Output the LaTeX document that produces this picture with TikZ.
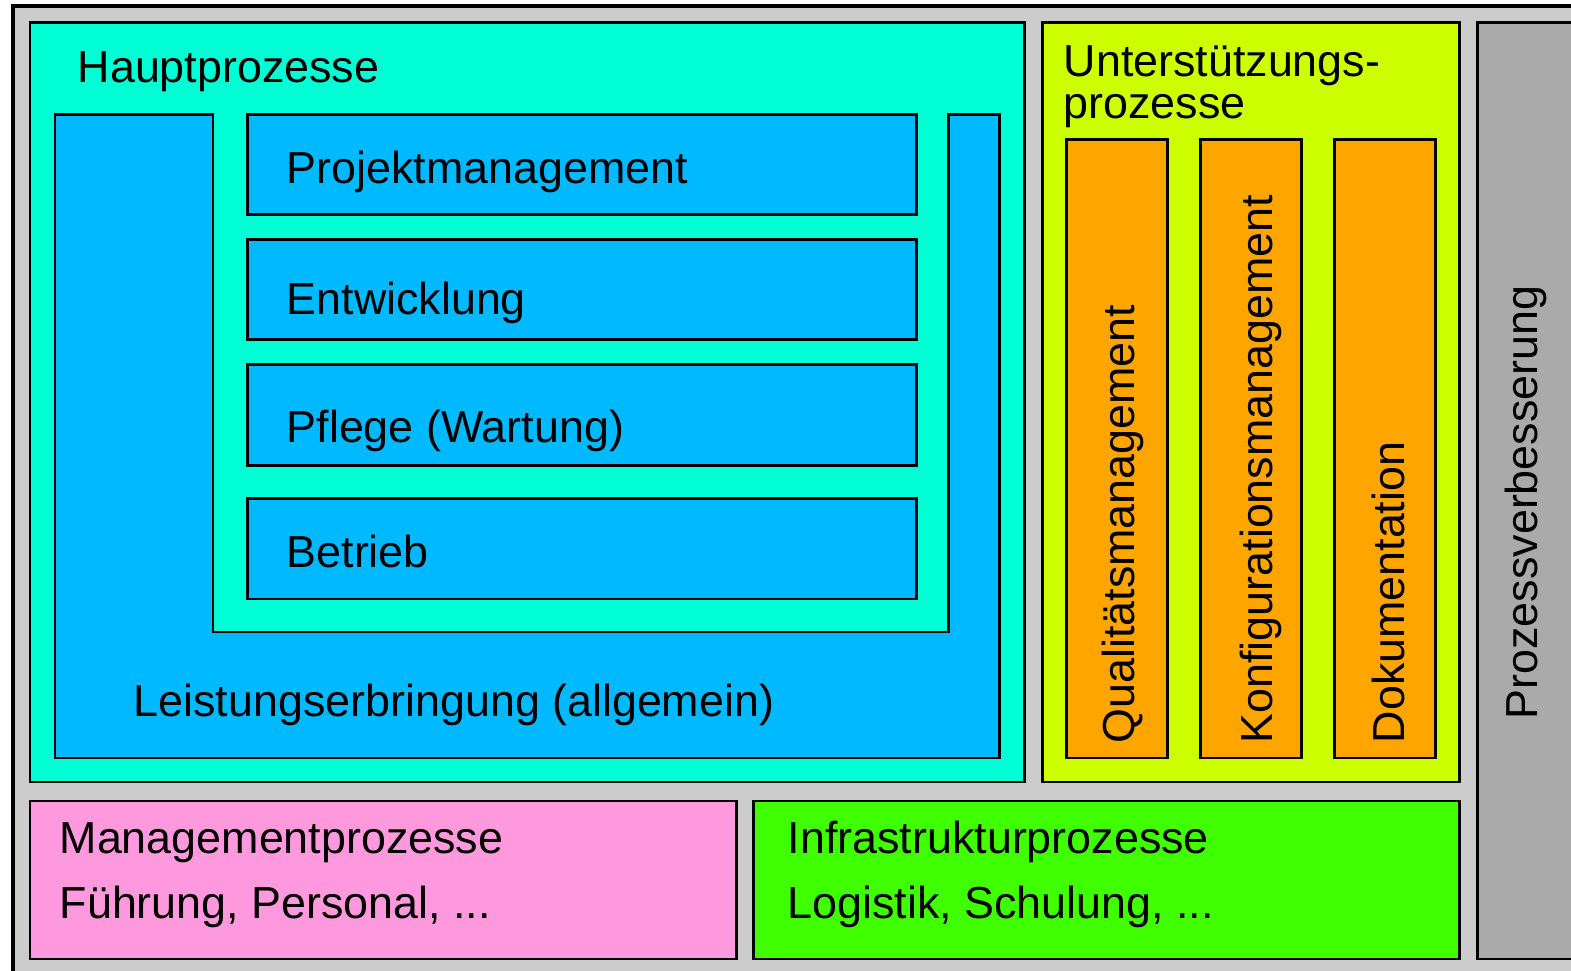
\documentclass[tikz,border=0pt]{standalone}
\usepackage{fontspec}
\setmainfont{Liberation Sans}
\usetikzlibrary{positioning}
\definecolor{framegray}{HTML}{CCCCCC}
\definecolor{hauptcol}{HTML}{00FFD5}
\definecolor{leistcol}{HTML}{00B9FF}
\definecolor{untercol}{HTML}{CCFF00}
\definecolor{orangecol}{HTML}{FFA500}
\definecolor{mgmtcol}{HTML}{FF99DD}
\definecolor{infracol}{HTML}{40FF00}
\definecolor{verbcol}{HTML}{AAAAAA}
\tikzset{
  box/.style={draw=black, line width=0.85pt},
  lbl/.style={inner sep=0pt, anchor=base west, font=\fontsize{12.75pt}{15pt}\selectfont},
  vlbl/.style={lbl, rotate=90}
}

\begin{document}
\begin{tikzpicture}[x=0.01cm, y=-0.01cm]
\useasboundingbox (0,0) rectangle (1571,971);
\clip (0,0) rectangle (1571,971);
\filldraw[box, fill=framegray, line width=1pt] (13,6) rectangle (1640,1040);

% Hauptprozesse
\filldraw[box, fill=hauptcol] (30,23) rectangle (1024,782);
\filldraw[box, fill=leistcol] (55,115) -- (213,115) -- (213,632) -- (948,632)
  -- (948,115) -- (999,115) -- (999,758) -- (55,758) -- cycle;
\filldraw[box, fill=leistcol] (247,115) rectangle (916,215);
\filldraw[box, fill=leistcol] (247,240) rectangle (916,340);
\filldraw[box, fill=leistcol] (247,365) rectangle (916,466);
\filldraw[box, fill=leistcol] (247,499) rectangle (916,599);
\node[lbl] (hp) at (77,83) {Hauptprozesse};
\node[lbl] (pm) at (286,184) {Projektmanagement};
\node[lbl] (ew) at (286,315) {Entwicklung};
\node[lbl] (pf) at (286,443) {Pflege (Wartung)};
\node[lbl] (bt) at (286,568) {Betrieb};
\node[lbl] (le) at (133,717) {Leistungserbringung (allgemein)};

% Unterstuetzungsprozesse
\filldraw[box, fill=untercol] (1042,23) rectangle (1459,782);
\foreach \x in {1066,1200,1334}
  \filldraw[box, fill=orangecol] (\x,140) rectangle (\x+101,758);
\node[lbl] (us) at (1063,77) {Unterstützungs-};
\node[lbl] (usx) at (1063,119) {prozesse};
\node[vlbl] (qm) at (1134,744) {Qualitätsmanagement};
\node[vlbl] (km) at (1272,744) {Konfigurationsmanagement};
\node[vlbl] (dk) at (1404,744) {Dokumentation};

% Prozessverbesserung
\filldraw[box, fill=verbcol] (1477,23) rectangle (1640,959);
\node[vlbl] (pv) at (1537,720) {Prozessverbesserung};

% Management / Infrastruktur
\filldraw[box, fill=mgmtcol] (30,801) rectangle (736,959);
\filldraw[box, fill=infracol] (753,801) rectangle (1459,959);
\node[lbl] (mp) at (59,853) {Managementprozesse};
\node[lbl] (mpx) at (59,918) {Führung, Personal, ...};
\node[lbl] (ip) at (787,853) {Infrastrukturprozesse};
\node[lbl] (ipx) at (787,918) {Logistik, Schulung, ...};
\end{tikzpicture}
\end{document}
